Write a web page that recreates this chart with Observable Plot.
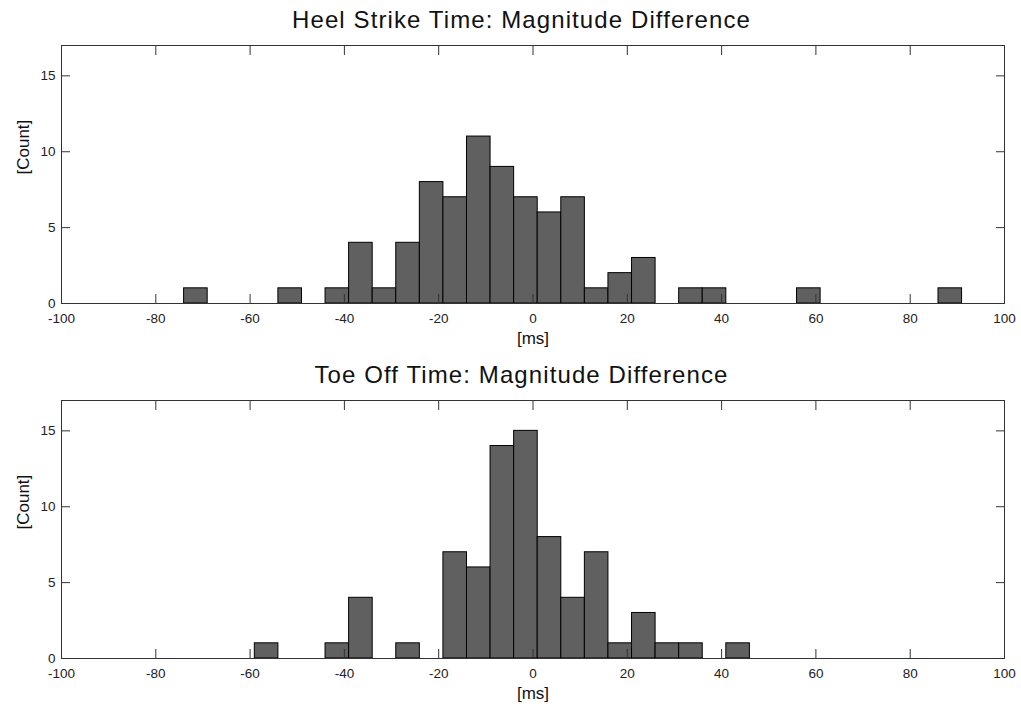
<!DOCTYPE html>
<html>
<head>
<meta charset="utf-8">
<script src="https://cdn.jsdelivr.net/npm/d3@7"></script>
<script src="https://cdn.jsdelivr.net/npm/@observablehq/plot@0.6"></script>
<style>
  body { margin: 0; background: #fff; font-family: "Liberation Sans", Arial, sans-serif; }
  .title { height: 40px; line-height: 40px; text-align: center; font-size: 24px; letter-spacing: 1.1px; color: #111; padding-left: 22px; }
  #chart svg { display: block; }
</style>
</head>
<body>
<div id="chart"></div>
<script>
// Histogram bins: left edge of each 5 ms bin, and its count
const binWidth = 5;
const heelBinStart = [-74, -54, -44, -39, -34, -29, -24, -19, -14, -9, -4, 1, 6, 11, 16, 21, 31, 36, 56, 86];
const heelCounts   = [  1,   1,   1,   4,   1,   4,   8,   7,  11,  9,  7, 6, 7,  1,  2,  3,  1,  1,  1,  1];
const toeBinStart  = [-59, -44, -39, -29, -19, -14, -9, -4, 1, 6, 11, 16, 21, 26, 31, 41];
const toeCounts    = [  1,   1,   4,   1,   7,   6, 14, 15, 8, 4,  7,  1,  3,  1,  1,  1];
const xTicks = [-100, -80, -60, -40, -20, 0, 20, 40, 60, 80, 100];
const yTicks = [0, 5, 10, 15];
const titles = ["Heel Strike Time: Magnitude Difference", "Toe Off Time: Magnitude Difference"];
const xLabel = "[ms]";
const yLabel = "[Count]";

function histogram(starts, counts) {
  const data = starts.map((s, i) => ({x1: s, x2: s + binWidth, count: counts[i]}));
  const fmt = d => String(d);
  return Plot.plot({
    width: 1021,
    height: 315,
    marginLeft: 61,
    marginRight: 17,
    marginTop: 5,
    marginBottom: 52,
    style: {fontFamily: "Liberation Sans, Arial, sans-serif", fontSize: "13.5px", color: "#222", background: "white"},
    x: {domain: [-100, 100]},
    y: {domain: [0, 17]},
    marks: [
      Plot.rectY(data, {x1: "x1", x2: "x2", y: "count", fill: "#606060", stroke: "#000", strokeWidth: 1}),
      Plot.axisX(xTicks, {anchor: "bottom", tickSize: -9, tickPadding: 19, tickFormat: fmt, label: null, fontSize: 13.5, stroke: "#333"}),
      Plot.axisX(xTicks, {anchor: "top", tickSize: -9, tickFormat: () => "", label: null, stroke: "#333"}),
      Plot.axisY(yTicks, {anchor: "left", tickSize: -9, tickPadding: 15, tickFormat: fmt, label: null, fontSize: 13.5, stroke: "#333"}),
      Plot.axisY(yTicks, {anchor: "right", tickSize: -9, tickFormat: () => "", label: null, stroke: "#333"}),
      Plot.frame({stroke: "#333", strokeWidth: 1}),
      Plot.text([xLabel], {text: d => d, frameAnchor: "bottom", dy: 40, fontSize: 17, fill: "#111"}),
      Plot.text([yLabel], {text: d => d, frameAnchor: "left", rotate: -90, dx: -38, fontSize: 17, fill: "#111"})
    ]
  });
}

const root = document.getElementById("chart");
[[heelBinStart, heelCounts], [toeBinStart, toeCounts]].forEach(([s, c], i) => {
  const t = document.createElement("div");
  t.className = "title";
  t.textContent = titles[i];
  root.appendChild(t);
  root.appendChild(histogram(s, c));
});
</script>
</body>
</html>
